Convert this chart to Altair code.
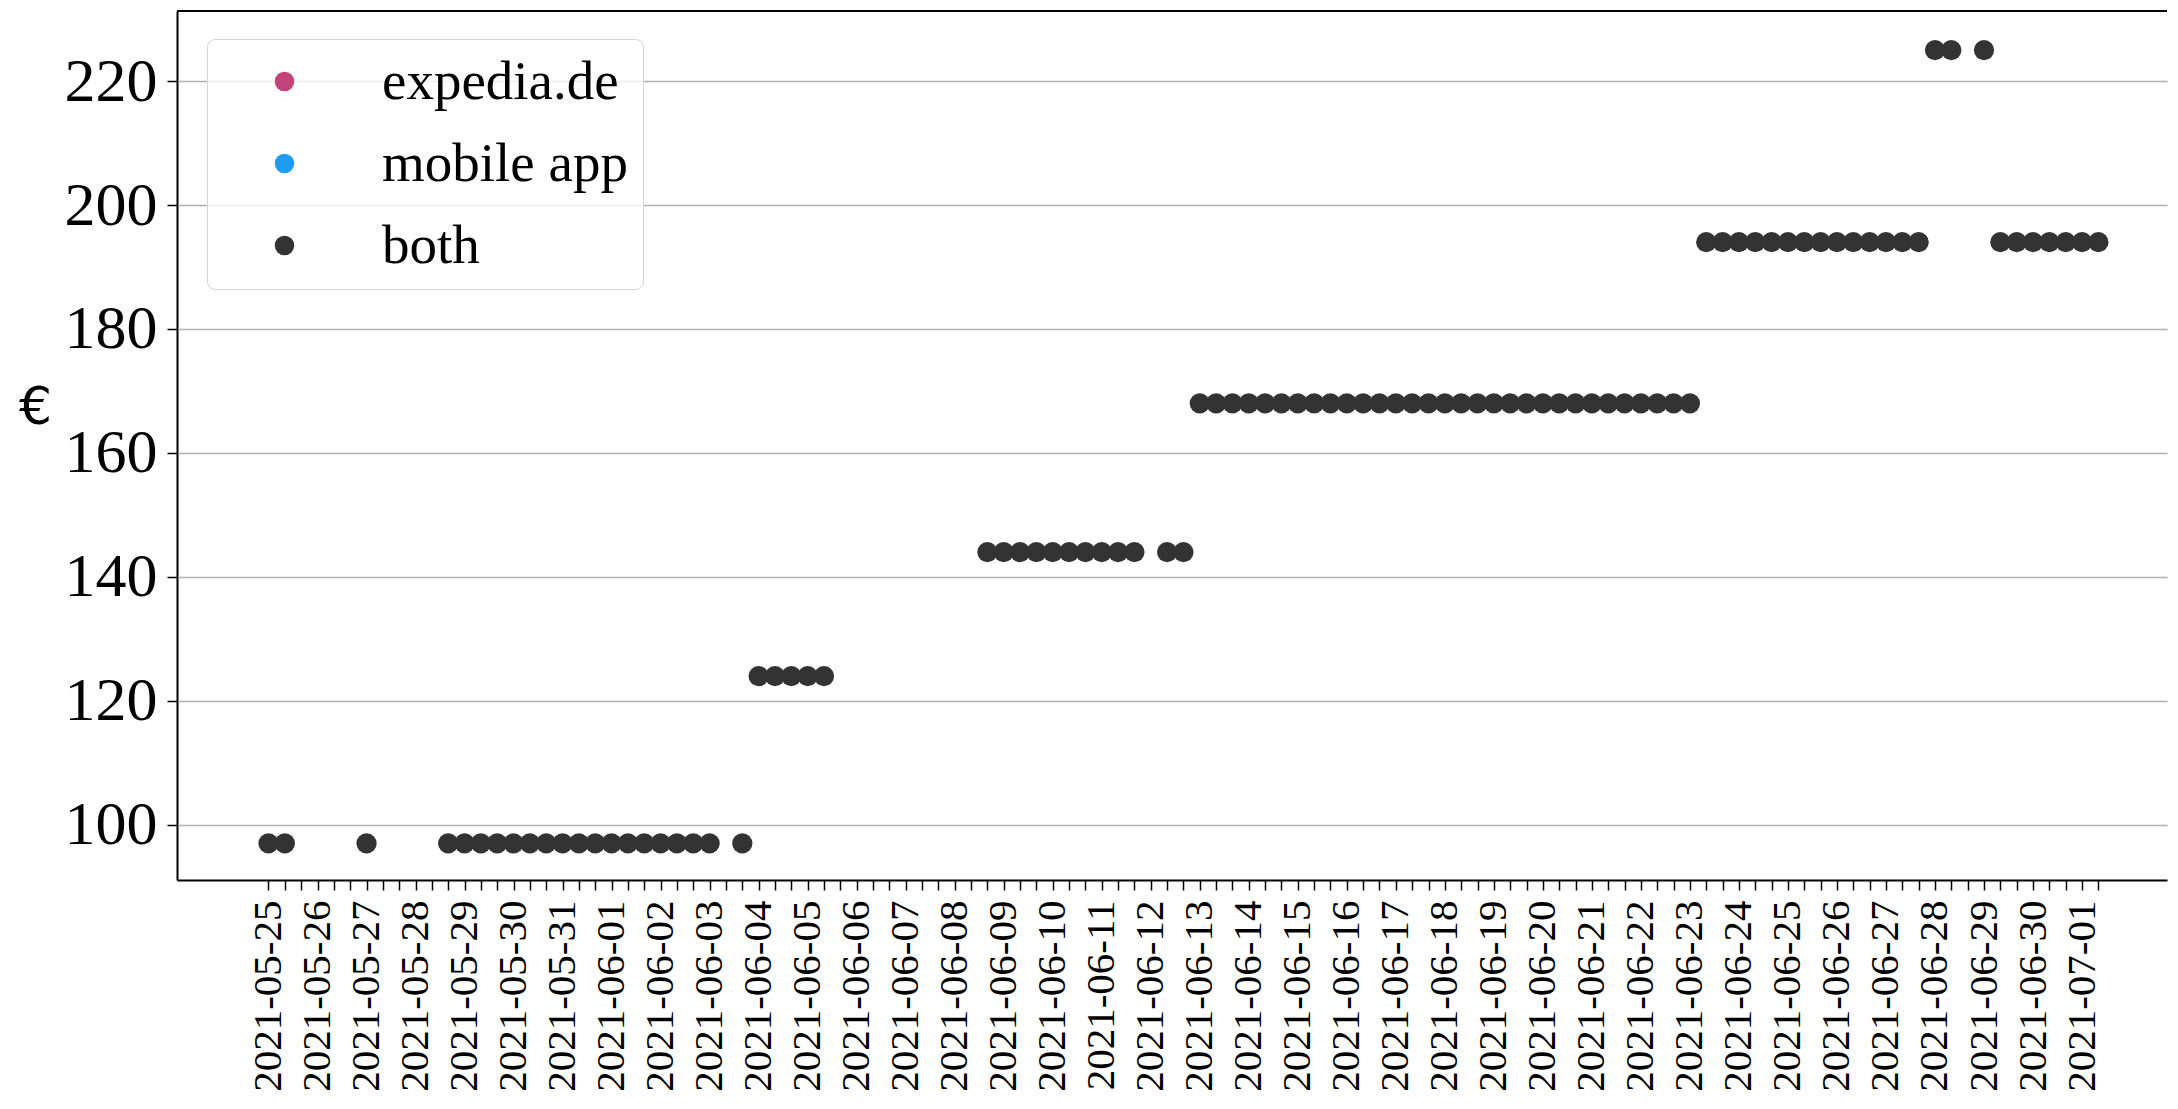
import altair as alt
import pandas as pd

# ---- data (prices in EUR, scrape times every 8 h) ----
scraped_at = [
    "2021-05-25T00:00:00Z", "2021-05-25T08:00:00Z",
    "2021-05-27T00:00:00Z",
    "2021-05-28T16:00:00Z",
    "2021-05-29T00:00:00Z", "2021-05-29T08:00:00Z", "2021-05-29T16:00:00Z",
    "2021-05-30T00:00:00Z", "2021-05-30T08:00:00Z", "2021-05-30T16:00:00Z",
    "2021-05-31T00:00:00Z", "2021-05-31T08:00:00Z", "2021-05-31T16:00:00Z",
    "2021-06-01T00:00:00Z", "2021-06-01T08:00:00Z", "2021-06-01T16:00:00Z",
    "2021-06-02T00:00:00Z", "2021-06-02T08:00:00Z", "2021-06-02T16:00:00Z",
    "2021-06-03T00:00:00Z", "2021-06-03T16:00:00Z",
    "2021-06-04T00:00:00Z", "2021-06-04T08:00:00Z", "2021-06-04T16:00:00Z",
    "2021-06-05T00:00:00Z", "2021-06-05T08:00:00Z",
    "2021-06-08T16:00:00Z",
    "2021-06-09T00:00:00Z", "2021-06-09T08:00:00Z", "2021-06-09T16:00:00Z",
    "2021-06-10T00:00:00Z", "2021-06-10T08:00:00Z", "2021-06-10T16:00:00Z",
    "2021-06-11T00:00:00Z", "2021-06-11T08:00:00Z", "2021-06-11T16:00:00Z",
    "2021-06-12T08:00:00Z", "2021-06-12T16:00:00Z",
    "2021-06-13T00:00:00Z", "2021-06-13T08:00:00Z", "2021-06-13T16:00:00Z",
    "2021-06-14T00:00:00Z", "2021-06-14T08:00:00Z", "2021-06-14T16:00:00Z",
    "2021-06-15T00:00:00Z", "2021-06-15T08:00:00Z", "2021-06-15T16:00:00Z",
    "2021-06-16T00:00:00Z", "2021-06-16T08:00:00Z", "2021-06-16T16:00:00Z",
    "2021-06-17T00:00:00Z", "2021-06-17T08:00:00Z", "2021-06-17T16:00:00Z",
    "2021-06-18T00:00:00Z", "2021-06-18T08:00:00Z", "2021-06-18T16:00:00Z",
    "2021-06-19T00:00:00Z", "2021-06-19T08:00:00Z", "2021-06-19T16:00:00Z",
    "2021-06-20T00:00:00Z", "2021-06-20T08:00:00Z", "2021-06-20T16:00:00Z",
    "2021-06-21T00:00:00Z", "2021-06-21T08:00:00Z", "2021-06-21T16:00:00Z",
    "2021-06-22T00:00:00Z", "2021-06-22T08:00:00Z", "2021-06-22T16:00:00Z",
    "2021-06-23T00:00:00Z", "2021-06-23T08:00:00Z", "2021-06-23T16:00:00Z",
    "2021-06-24T00:00:00Z", "2021-06-24T08:00:00Z", "2021-06-24T16:00:00Z",
    "2021-06-25T00:00:00Z", "2021-06-25T08:00:00Z", "2021-06-25T16:00:00Z",
    "2021-06-26T00:00:00Z", "2021-06-26T08:00:00Z", "2021-06-26T16:00:00Z",
    "2021-06-27T00:00:00Z", "2021-06-27T08:00:00Z", "2021-06-27T16:00:00Z",
    "2021-06-28T00:00:00Z", "2021-06-28T08:00:00Z",
    "2021-06-29T00:00:00Z", "2021-06-29T08:00:00Z", "2021-06-29T16:00:00Z",
    "2021-06-30T00:00:00Z", "2021-06-30T08:00:00Z", "2021-06-30T16:00:00Z",
    "2021-07-01T00:00:00Z", "2021-07-01T08:00:00Z",
]
price_eur = [
    97, 97,
    97,
    97,
    97, 97, 97,
    97, 97, 97,
    97, 97, 97,
    97, 97, 97,
    97, 97, 97,
    97, 97,
    124, 124, 124,
    124, 124,
    144,
    144, 144, 144,
    144, 144, 144,
    144, 144, 144,
    144, 144,
    168, 168, 168,
    168, 168, 168,
    168, 168, 168,
    168, 168, 168,
    168, 168, 168,
    168, 168, 168,
    168, 168, 168,
    168, 168, 168,
    168, 168, 168,
    168, 168, 168,
    168, 194, 194,
    194, 194, 194,
    194, 194, 194,
    194, 194, 194,
    194, 194, 194,
    225, 225,
    225, 194, 194,
    194, 194, 194,
    194, 194,
]
source = ["both"] * len(price_eur)

sources = ["expedia.de", "mobile app", "both"]
source_colors = ["#c2437c", "#1e9cf0", "#333333"]

day_labels = [
    "2021-05-25", "2021-05-26", "2021-05-27", "2021-05-28", "2021-05-29",
    "2021-05-30", "2021-05-31", "2021-06-01", "2021-06-02", "2021-06-03",
    "2021-06-04", "2021-06-05", "2021-06-06", "2021-06-07", "2021-06-08",
    "2021-06-09", "2021-06-10", "2021-06-11", "2021-06-12", "2021-06-13",
    "2021-06-14", "2021-06-15", "2021-06-16", "2021-06-17", "2021-06-18",
    "2021-06-19", "2021-06-20", "2021-06-21", "2021-06-22", "2021-06-23",
    "2021-06-24", "2021-06-25", "2021-06-26", "2021-06-27", "2021-06-28",
    "2021-06-29", "2021-06-30", "2021-07-01",
]
tick_hours = [0, 8, 16]
y_ticks = [100, 120, 140, 160, 180, 200, 220]

df = pd.DataFrame({"time": scraped_at, "price": price_eur, "source": source})

last_time = pd.Timestamp(scraped_at[-1]).tz_localize(None)
tick_values = []
for d in day_labels:
    yy, mm, dd = (int(p) for p in d.split("-"))
    for h in tick_hours:
        if pd.Timestamp(d) + pd.Timedelta(hours=h) <= last_time:
            tick_values.append(alt.DateTime(year=yy, month=mm, date=dd, hours=h, utc=True))

W, H = 1990, 869
SERIF = "Liberation Serif"

x_enc = alt.X(
    "time:T",
    scale=alt.Scale(
        type="utc",
        nice=False,
        domain=[
            alt.DateTime(year=2021, month=5, date=23, hours=3, minutes=12, utc=True),
            alt.DateTime(year=2021, month=7, date=2, hours=17, minutes=36, utc=True),
        ],
    ),
    axis=alt.Axis(
        values=tick_values,
        labelExpr="utchours(datum.value) == 0 ? utcFormat(datum.value, '%Y-%m-%d') : ''",
        labelAngle=270,
        labelFont=SERIF,
        labelFontSize=41,
        labelColor="black",
        labelPadding=10,
        labelLimit=400,
        labelOverlap=False,
        labelFlush=False,
        tickColor="black",
        tickSize=10,
        tickWidth=1.5,
        domainColor="black",
        domainWidth=2,
        grid=False,
        title=None,
    ),
)

y_enc = alt.Y(
    "price:Q",
    scale=alt.Scale(domain=[91.1, 231.3], nice=False, zero=False),
    axis=alt.Axis(
        values=y_ticks,
        labelFont=SERIF,
        labelFontSize=62,
        labelColor="black",
        labelPadding=10,
        tickColor="black",
        tickSize=10,
        tickWidth=1.5,
        domainColor="black",
        domainWidth=2,
        grid=True,
        gridColor="#b0b0b0",
        gridWidth=1.5,
        title="€",
        titleFont="DejaVu Sans",
        titleFontSize=52,
        titleFontWeight="normal",
        titleColor="black",
        titleAngle=0,
        titleAlign="center",
        titleBaseline="middle",
        titleX=-142,
        titleY=396,
    ),
)

points = alt.Chart(df).mark_circle(size=410, opacity=1).encode(
    x=x_enc,
    y=y_enc,
    color=alt.Color(
        "source:N",
        scale=alt.Scale(domain=sources, range=source_colors),
        legend=alt.Legend(
            title=None,
            orient="none",
            legendX=30,
            legendY=28,
            fillColor="rgba(255,255,255,0.8)",
            strokeColor="#d4d4d4",
            cornerRadius=8,
            padding=15,
            labelFont=SERIF,
            labelFontSize=55,
            labelColor="black",
            labelLimit=500,
            labelOffset=70,
            symbolType="circle",
            symbolSize=380,
            symbolStrokeWidth=0,
            symbolOffset=35,
            rowPadding=26,
        ),
    ),
)

top_border = alt.Chart(pd.DataFrame({"k": [0]})).mark_rule(color="black", strokeWidth=2).encode(
    x=alt.value(0), x2=alt.value(W), y=alt.value(0)
)

chart = (
    alt.layer(points, top_border)
    .properties(
        width=W,
        height=H,
        autosize=alt.AutoSizeParams(type="none"),
        padding={"left": 169, "top": 3, "right": 3, "bottom": 218},
        background="white",
    )
    .configure_view(stroke=None)
)

chart.save("out.html", embed_options={"renderer": "svg", "actions": False})
